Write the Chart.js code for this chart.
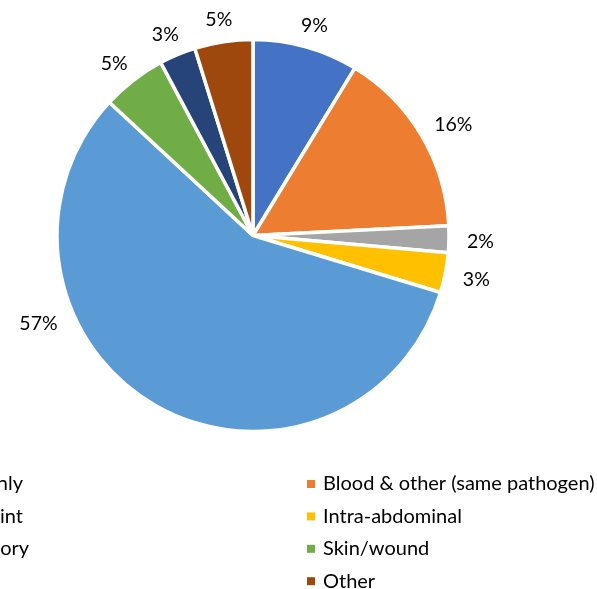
<!DOCTYPE html>
<html>
<head>
<meta charset="utf-8">
<script src="https://cdn.jsdelivr.net/npm/chart.js@4.4.1/dist/chart.umd.min.js"></script>
<style>
    html, body { margin: 0; padding: 0; background: #fff; overflow: hidden; }
    #wrap { position: absolute; left: -140px; top: 0; }
</style>
</head>
<body>
<div id="wrap"><canvas id="myChart" width="737" height="589"></canvas></div>
<script>
// data (share of cases, %)
var categories = ['Blood only', 'Blood & other (same pathogen)', 'Bone/joint', 'Intra-abdominal',
    'Respiratory', 'Skin/wound', 'Urine', 'Other'];
var shares = [8.7, 15.5, 2.2, 3.3, 57.2, 5.3, 3.0, 4.8];
var sliceColors = ['#4472C4', '#ED7D31', '#A5A5A5', '#FFC000', '#5B9BD5', '#70AD47', '#264478', '#9E480E'];

var FONT = 'Lato, "Noto Sans", sans-serif';
var SHIFT = 140; // canvas starts 140px left of the page

// percent labels outside each slice
var outsideLabels = {
    id: 'outsideLabels',
    afterDatasetsDraw: function (chart) {
        var ctx = chart.ctx;
        var meta = chart.getDatasetMeta(0);
        var total = shares.reduce(function (a, b) { return a + b; }, 0);
        ctx.save();
        ctx.font = '19.5px ' + FONT;
        ctx.fillStyle = '#000';
        ctx.textAlign = 'center';
        ctx.textBaseline = 'middle';
        meta.data.forEach(function (arc, i) {
            var p = arc.getProps(['x', 'y', 'startAngle', 'endAngle', 'outerRadius'], true);
            // the big slice label sits further round, as in the original
            var frac = i === 4 ? 0.68 : 0.5;
            var a = p.startAngle + (p.endAngle - p.startAngle) * frac;
            var txt = Math.round(shares[i] / total * 100) + '%';
            var w = ctx.measureText(txt).width;
            var r = p.outerRadius + 18;
            var cx = p.x + Math.cos(a) * r + Math.cos(a) * w / 2;
            var cy = p.y + Math.sin(a) * r + Math.sin(a) * 6 + 2;
            ctx.fillText(txt, cx, cy);
        });
        ctx.restore();
    }
};

// two column legend under the pie
var gridLegend = {
    id: 'gridLegend',
    afterDraw: function (chart) {
        var ctx = chart.ctx;
        var colX = [307 - 394 + SHIFT, 307 + SHIFT];
        var rowY0 = 484, rowGap = 32.4;
        ctx.save();
        ctx.font = '20px ' + FONT;
        ctx.textBaseline = 'middle';
        ctx.textAlign = 'left';
        categories.forEach(function (name, i) {
            var col = i % 2, row = Math.floor(i / 2);
            var x = colX[col], y = rowY0 + row * rowGap;
            ctx.fillStyle = sliceColors[i];
            ctx.fillRect(x, y - 4, 8, 8);
            ctx.fillStyle = '#000';
            ctx.fillText(name, x + 16, y);
        });
        ctx.restore();
    }
};

var ctx = document.getElementById('myChart').getContext('2d');
var myChart = new Chart(ctx, {
    type: 'pie',
    data: {
        labels: categories,
        datasets: [{
            data: shares,
            backgroundColor: sliceColors,
            borderColor: '#ffffff',
            borderWidth: 3.5
        }]
    },
    options: {
        responsive: false,
        animation: false,
        devicePixelRatio: 1,
        radius: 196,
        layout: { padding: { left: 49, right: 0, top: 40, bottom: 158 } },
        plugins: {
            legend: { display: false },
            tooltip: { enabled: false }
        }
    },
    plugins: [outsideLabels, gridLegend]
});
</script>
</body>
</html>
